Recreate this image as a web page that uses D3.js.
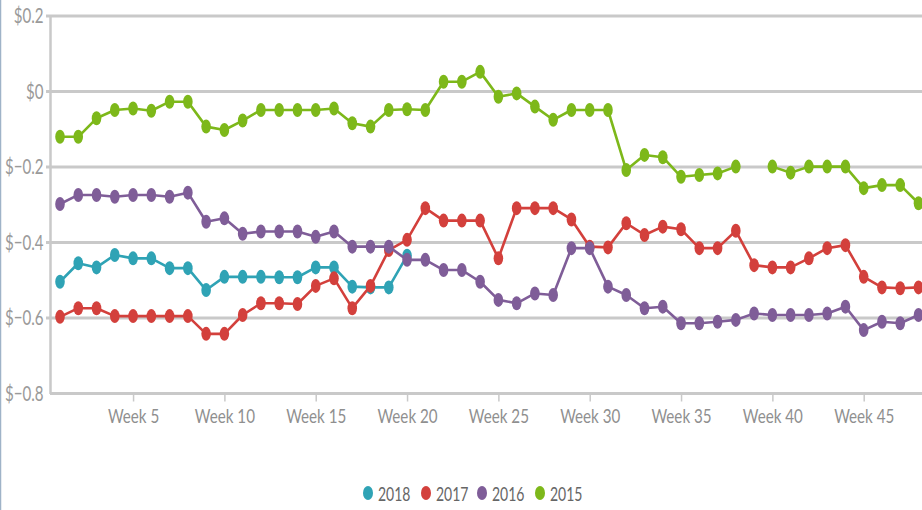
<!DOCTYPE html>
<html><head><meta charset="utf-8">
<script src="https://cdn.jsdelivr.net/npm/d3@7"></script>
<style>html,body{margin:0;padding:0;background:#fff;overflow:hidden}svg{display:block}</style>
</head><body><svg id="c" width="922" height="510"></svg>
<script>
const weeks = [1,2,3,4,5,6,7,8,9,10,11,12,13,14,15,16,17,18,19,20,21,22,23,24,25,26,27,28,29,30,31,32,33,34,35,36,37,38,39,40,41,42,43,44,45,46,47,48];
const tickWeeks = [5,10,15,20,25,30,35,40,45];
const yTicks = [0.2,0,-0.2,-0.4,-0.6,-0.8];
const seriesNames = ["2018","2017","2016","2015"];
const seriesColors = ["#2fa3b5","#d3403c","#7f5d98","#7db81a"];
const s2018 = [-0.504,-0.455,-0.466,-0.433,-0.442,-0.442,-0.468,-0.468,-0.526,-0.491,-0.491,-0.491,-0.492,-0.492,-0.466,-0.466,-0.517,-0.519,-0.519,-0.435,null,null,null,null,null,null,null,null,null,null,null,null,null,null,null,null,null,null,null,null,null,null,null,null,null,null,null,null];
const s2017 = [-0.597,-0.574,-0.574,-0.595,-0.595,-0.595,-0.595,-0.595,-0.642,-0.642,-0.592,-0.561,-0.561,-0.563,-0.515,-0.495,-0.574,-0.515,-0.42,-0.393,-0.309,-0.342,-0.342,-0.342,-0.442,-0.309,-0.309,-0.309,-0.339,-0.411,-0.413,-0.349,-0.380,-0.358,-0.365,-0.415,-0.415,-0.369,-0.460,-0.466,-0.466,-0.442,-0.415,-0.407,-0.491,-0.519,-0.521,-0.519];
const s2016 = [-0.298,-0.274,-0.274,-0.279,-0.274,-0.274,-0.279,-0.268,-0.345,-0.336,-0.377,-0.371,-0.371,-0.371,-0.385,-0.371,-0.411,-0.411,-0.411,-0.446,-0.446,-0.473,-0.473,-0.504,-0.552,-0.561,-0.535,-0.539,-0.415,-0.415,-0.517,-0.539,-0.574,-0.570,-0.614,-0.614,-0.610,-0.605,-0.588,-0.592,-0.592,-0.592,-0.588,-0.570,-0.632,-0.610,-0.614,-0.592];
const s2015 = [-0.12,-0.12,-0.071,-0.049,-0.045,-0.051,-0.027,-0.027,-0.093,-0.102,-0.077,-0.049,-0.049,-0.049,-0.049,-0.045,-0.084,-0.093,-0.049,-0.047,-0.049,0.026,0.026,0.052,-0.014,-0.005,-0.04,-0.075,-0.049,-0.049,-0.049,-0.208,-0.168,-0.174,-0.226,-0.221,-0.217,-0.199,null,-0.199,-0.215,-0.199,-0.199,-0.199,-0.256,-0.248,-0.248,-0.296];
const seriesValues = [s2018, s2017, s2016, s2015];

const svg = d3.select("#c");
const FONT = "Lato, 'Open Sans', sans-serif";
const x = d3.scaleLinear().domain([1,48]).range([60,918.5]);
const y = d3.scaleLinear().domain([-0.8,0.2]).range([393.5,16]);

// left border
svg.append("line").attr("x1",0.5).attr("x2",0.5).attr("y1",0).attr("y2",510)
  .attr("stroke","#9fb3c8").attr("stroke-width",1.5);

// gridlines
svg.append("g").selectAll("line").data(yTicks.filter(d=>d>-0.8)).join("line")
  .attr("x1",46).attr("x2",922).attr("y1",d=>y(d)).attr("y2",d=>y(d))
  .attr("stroke","#c9c9c9").attr("stroke-width",3);

// y axis
const yAxis = svg.append("g").attr("transform","translate(50,0)")
  .call(d3.axisLeft(y).tickValues(yTicks).tickSize(0).tickPadding(9).tickFormat(d=>"$"+(d===0?"0":d3.format(".1f")(d))));
yAxis.select(".domain").attr("stroke","#c9c9c9").attr("stroke-width",2.5);
yAxis.selectAll("text").attr("fill","#9a9a9a").attr("font-size",21).attr("font-family",FONT)
  .attr("transform","scale(0.72,1)");

// x axis
const xAxis = svg.append("g").attr("transform","translate(0,393.5)")
  .call(d3.axisBottom(x).tickValues(tickWeeks).tickSize(8).tickPadding(7).tickFormat(d=>"Week "+d));
xAxis.select(".domain").remove();
xAxis.insert("line",":first-child").attr("x1",50).attr("x2",922).attr("y1",0).attr("y2",0)
  .attr("stroke","#c9c9c9").attr("stroke-width",3);
xAxis.selectAll(".tick line").attr("stroke","#c9c9c9").attr("stroke-width",1.5);
xAxis.selectAll("text").attr("fill","#8f8f8f").attr("font-size",20).attr("font-family",FONT)
  .attr("transform","scale(0.76,1)");

// series
const line = d3.line().defined(d=>d.v!=null).x(d=>x(d.w)).y(d=>y(d.v));
seriesNames.forEach((name,i)=>{
  const data = weeks.map((w,j)=>({w:w,v:seriesValues[i][j]}));
  const g = svg.append("g");
  g.append("path").datum(data).attr("d",line).attr("fill","none")
    .attr("stroke",seriesColors[i]).attr("stroke-width",2.6).attr("stroke-linejoin","round");
  g.selectAll("ellipse").data(data.filter(d=>d.v!=null)).join("ellipse")
    .attr("cx",d=>x(d.w)).attr("cy",d=>y(d.v)).attr("rx",4.8).attr("ry",7)
    .attr("fill",seriesColors[i]);
});

// legend
const legendX = [368,426,482,540];
const lg = svg.append("g");
seriesNames.forEach((name,i)=>{
  lg.append("ellipse").attr("cx",legendX[i]).attr("cy",493).attr("rx",5).attr("ry",7).attr("fill",seriesColors[i]);
  lg.append("text").attr("transform","translate("+(legendX[i]+10)+",500.5) scale(0.7,1)")
    .attr("font-size",20).attr("font-family",FONT).attr("fill","#666").text(name);
});
</script></body></html>
